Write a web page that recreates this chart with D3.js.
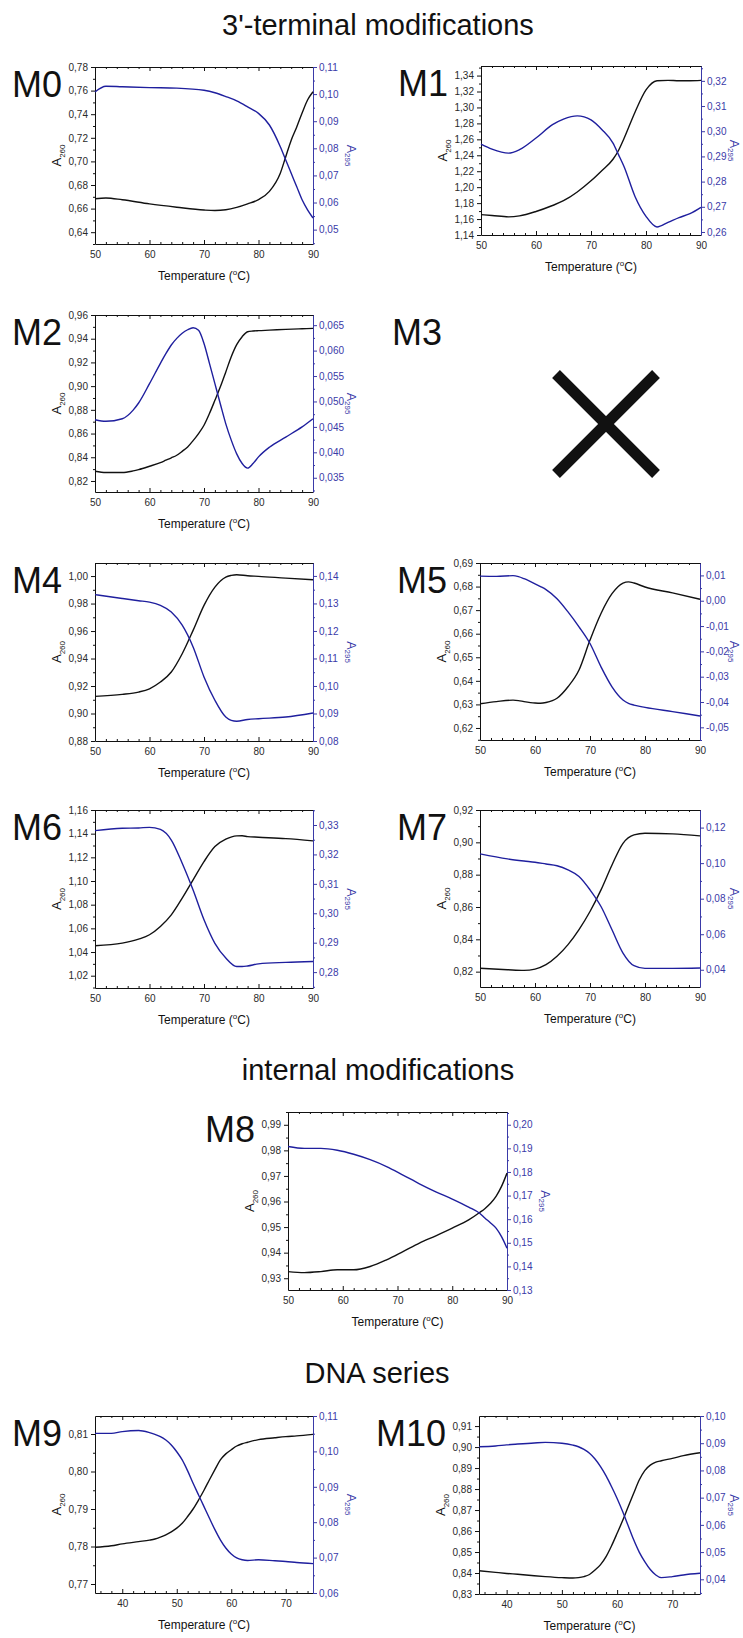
<!DOCTYPE html>
<html lang="en">
<head>
<meta charset="UTF-8">
<title>UV melting curves, A260 / A295</title>
<script src="https://d3js.org/d3.v7.min.js"></script>
<style>
  body { margin: 0; background: #fff; }
  svg { display: block; font-family: "Liberation Sans", Arial, sans-serif; }
</style>
</head>
<body>
<svg width="743" height="1638"></svg>
<script>
// melting curves: temperature (C), absorbance at 260 nm and 295 nm
const tM0    = [50, 52, 55, 60, 65, 70, 72, 74, 76, 78, 80, 82, 84, 85, 86, 87, 88, 89, 90];
const a260M0 = [0.6684, 0.669, 0.6675, 0.664, 0.6612, 0.6588, 0.6584, 0.659, 0.661, 0.664, 0.6676, 0.6746, 0.690, 0.704, 0.718, 0.729, 0.741, 0.752, 0.759];
const a295M0 = [0.1008, 0.1029, 0.1027, 0.1024, 0.1022, 0.1014, 0.1005, 0.0991, 0.0975, 0.0953, 0.0929, 0.0886, 0.0806, 0.0757, 0.0708, 0.0659, 0.061, 0.0573, 0.0543];

const tM1    = [50, 52, 55, 57, 60, 63, 65, 67.5, 70, 72, 74, 75, 76, 78, 80, 82, 84, 86, 88, 90];
const a260M1 = [1.1655, 1.1645, 1.1628, 1.164, 1.1695, 1.177, 1.183, 1.194, 1.208, 1.221, 1.235, 1.246, 1.261, 1.294, 1.322, 1.3335, 1.334, 1.3335, 1.3335, 1.334];
const a295M1 = [0.2949, 0.2929, 0.2913, 0.2927, 0.2973, 0.3026, 0.3048, 0.3061, 0.3045, 0.3006, 0.2953, 0.2907, 0.286, 0.2741, 0.2662, 0.262, 0.2638, 0.2657, 0.2673, 0.2698];

const tM2    = [50, 52, 55, 57, 58, 60, 62, 63, 64, 65, 66, 67, 68, 69, 70, 71, 72, 73, 74, 75, 76, 77, 78, 79, 80, 82, 85, 88, 90];
const a260M2 = [0.8282, 0.8271, 0.8271, 0.8285, 0.8296, 0.8324, 0.8355, 0.8375, 0.8395, 0.8417, 0.845, 0.8487, 0.854, 0.86, 0.867, 0.8769, 0.888, 0.8994, 0.912, 0.9248, 0.935, 0.9417, 0.9459, 0.9465, 0.9468, 0.9472, 0.9479, 0.9484, 0.9487];
const a295M2 = [0.0464, 0.0461, 0.0466, 0.0483, 0.0497, 0.0535, 0.0575, 0.0594, 0.0611, 0.0624, 0.0634, 0.0641, 0.0645, 0.064, 0.0614, 0.0575, 0.0535, 0.0495, 0.0456, 0.0424, 0.0397, 0.0378, 0.0369, 0.0378, 0.0391, 0.041, 0.043, 0.045, 0.0466];

const tM4    = [50, 55, 58, 60, 62, 64, 66, 68, 70, 72, 74, 75, 76, 78, 80, 85, 90];
const a260M4 = [0.9125, 0.9139, 0.9156, 0.918, 0.9229, 0.9302, 0.9435, 0.9605, 0.9787, 0.992, 0.9993, 1.0005, 1.001, 1.0002, 0.9998, 0.9985, 0.9973];
const a295M4 = [0.1332, 0.1318, 0.131, 0.1305, 0.1293, 0.1269, 0.1221, 0.1142, 0.1033, 0.0948, 0.0887, 0.0875, 0.0872, 0.0878, 0.0881, 0.0887, 0.0902];

const tM5    = [50, 53, 56, 57, 58, 60, 61, 62, 64, 66, 68, 70, 72, 74, 76, 77, 78, 80, 85, 90];
const a260M5 = [0.6303, 0.6312, 0.6318, 0.6316, 0.6312, 0.6306, 0.6305, 0.6308, 0.6326, 0.6375, 0.6446, 0.6573, 0.6686, 0.677, 0.6815, 0.682, 0.6815, 0.6798, 0.6773, 0.6746];
const a295M5 = [0.0097, 0.0096, 0.0099, 0.0095, 0.0087, 0.0067, 0.0056, 0.0044, 0.0008, -0.0044, -0.0103, -0.0169, -0.0261, -0.034, -0.0392, -0.0405, -0.0412, -0.0421, -0.0438, -0.0455];

const tM6    = [50, 55, 58, 60, 62, 64, 66, 68, 70, 72, 74, 76, 77, 78, 80, 85, 90];
const a260M6 = [1.0453, 1.0475, 1.0509, 1.0546, 1.0616, 1.0714, 1.0855, 1.101, 1.1164, 1.1291, 1.1353, 1.1381, 1.1382, 1.1375, 1.137, 1.1358, 1.1339];
const a295M6 = [0.3281, 0.3289, 0.329, 0.3292, 0.3285, 0.3249, 0.317, 0.3079, 0.2978, 0.2898, 0.2848, 0.2819, 0.2819, 0.2821, 0.2828, 0.2833, 0.2836];

const tM7    = [50, 55, 58, 60, 62, 64, 66, 68, 70, 72, 74, 76, 78, 80, 85, 90];
const a260M7 = [0.8221, 0.8212, 0.8208, 0.8216, 0.8243, 0.8295, 0.8367, 0.846, 0.8572, 0.8706, 0.886, 0.8994, 0.9046, 0.9056, 0.9052, 0.904];
const a295M7 = [0.1052, 0.1024, 0.1012, 0.1005, 0.0995, 0.0985, 0.0962, 0.0925, 0.085, 0.0756, 0.0625, 0.0494, 0.0423, 0.0408, 0.0408, 0.041];

const tM8    = [50, 53, 56, 59, 62, 65, 68, 71, 74, 77, 80, 83, 85, 86, 87, 88, 89, 90];
const a260M8 = [0.9326, 0.9322, 0.9326, 0.9333, 0.9333, 0.9346, 0.9372, 0.9404, 0.9437, 0.9466, 0.9496, 0.9528, 0.9557, 0.9573, 0.9593, 0.962, 0.9659, 0.9711];
const a295M8 = [0.1908, 0.19, 0.19, 0.1892, 0.1875, 0.1852, 0.1823, 0.1787, 0.175, 0.1716, 0.1685, 0.1651, 0.1625, 0.1604, 0.1584, 0.1562, 0.1526, 0.1477];

const tM9    = [35, 38, 40, 43, 45, 46, 47, 48, 49, 50, 51, 52, 53, 54, 55, 56, 57, 58, 59, 60, 61, 62, 63, 65, 68, 70, 72, 75];
const a260M9 = [0.7798, 0.7802, 0.7807, 0.7813, 0.7817, 0.782, 0.7825, 0.7831, 0.7839, 0.7849, 0.7862, 0.788, 0.79, 0.7924, 0.795, 0.7978, 0.8005, 0.8031, 0.8047, 0.8058, 0.8068, 0.8074, 0.8078, 0.8085, 0.809, 0.8093, 0.8095, 0.8099];
const a295M9 = [0.1051, 0.1051, 0.1056, 0.1059, 0.1053, 0.1048, 0.1042, 0.1032, 0.1018, 0.0999, 0.0976, 0.0945, 0.091, 0.0877, 0.0844, 0.0811, 0.0779, 0.075, 0.0727, 0.071, 0.0699, 0.0694, 0.0692, 0.0694, 0.0691, 0.0689, 0.0686, 0.0683];

const tM10    = [35, 38, 40, 42, 45, 47, 50, 52, 53, 54, 55, 56, 57, 58, 59, 60, 61, 62, 63, 64, 65, 66, 67, 68, 70, 72, 75];
const a260M10 = [0.8411, 0.8403, 0.8398, 0.8394, 0.8387, 0.8383, 0.8378, 0.8376, 0.8378, 0.8383, 0.8393, 0.8414, 0.844, 0.8478, 0.853, 0.8589, 0.865, 0.8716, 0.878, 0.8843, 0.8888, 0.8914, 0.8928, 0.8935, 0.8946, 0.8959, 0.8973];
const a295M10 = [0.0887, 0.089, 0.0894, 0.0897, 0.0901, 0.0903, 0.09, 0.0893, 0.0887, 0.0877, 0.0863, 0.0842, 0.0814, 0.078, 0.074, 0.0697, 0.0649, 0.0597, 0.0545, 0.05, 0.0465, 0.0436, 0.0416, 0.0406, 0.041, 0.0416, 0.0422];

// axis ranges: [min, max, major step]
const xRange5090 = [50, 90, 10];
const xRange3575 = [35, 75, 10];

const headings = ["3'-terminal modifications", "internal modifications", "DNA series"];

// panel layout (pixel box of each plot frame)
const panels = [
  { name: "M0",  box: [95, 67, 313, 244],    t: tM0,  a: a260M0,  b: a295M0,  x: xRange5090, yl: [0.63, 0.78, 0.02],     yr: [0.0447, 0.11, 0.01],   dr: 2 },
  { name: "M1",  box: [481, 66, 701, 235],   t: tM1,  a: a260M1,  b: a295M1,  x: xRange5090, yl: [1.14, 1.352, 0.02],    yr: [0.2588, 0.3259, 0.01], dr: 2 },
  { name: "M2",  box: [95, 315, 313, 492],   t: tM2,  a: a260M2,  b: a295M2,  x: xRange5090, yl: [0.8107, 0.96, 0.02],   yr: [0.0322, 0.067, 0.005], dr: 3 },
  { name: "M4",  box: [95, 563, 313, 741],   t: tM4,  a: a260M4,  b: a295M4,  x: xRange5090, yl: [0.88, 1.0095, 0.02],   yr: [0.08, 0.1447, 0.01],   dr: 2 },
  { name: "M5",  box: [480, 563, 700, 740],  t: tM5,  a: a260M5,  b: a295M5,  x: xRange5090, yl: [0.6149, 0.69, 0.01],   yr: [-0.055, 0.0149, 0.01], dr: 2 },
  { name: "M6",  box: [95, 810, 313, 988],   t: tM6,  a: a260M6,  b: a295M6,  x: xRange5090, yl: [1.0096, 1.16, 0.02],   yr: [0.2746, 0.3351, 0.01], dr: 2 },
  { name: "M7",  box: [480, 810, 700, 987],  t: tM7,  a: a260M7,  b: a295M7,  x: xRange5090, yl: [0.8105, 0.92, 0.02],   yr: [0.0303, 0.1299, 0.02], dr: 2 },
  { name: "M8",  box: [288, 1112, 507, 1290], t: tM8, a: a260M8,  b: a295M8,  x: xRange5090, yl: [0.9254, 0.995, 0.01],  yr: [0.13, 0.2054, 0.01],   dr: 2 },
  { name: "M9",  box: [95, 1416, 313, 1593], t: tM9,  a: a260M9,  b: a295M9,  x: xRange3575, yl: [0.7676, 0.8148, 0.01], yr: [0.06, 0.11, 0.01],     dr: 2 },
  { name: "M10", box: [479, 1416, 700, 1594], t: tM10, a: a260M10, b: a295M10, x: xRange3575, yl: [0.83, 0.9148, 0.01],  yr: [0.0346, 0.10, 0.01],   dr: 2 }
];

const black = "#111", blueLine = "#1f1f9e", blueAxis = "#3a3aa8", tickText = "#2a2a2a";
const font = '"Liberation Sans", Arial, sans-serif';
const pageW = 743;

const svg = d3.select("svg");
svg.append("rect").attr("width", pageW).attr("height", 1638).attr("fill", "#fff");

// section headings
[[378, 35], [378, 1080], [377, 1383]].forEach(([x, y], i) => {
  svg.append("text").attr("x", x).attr("y", y)
    .attr("text-anchor", "middle").attr("font-size", 29).attr("fill", black)
    .text(headings[i]);
});

// values on a fixed step inside [lo, hi]
function stepValues(lo, hi, step) {
  const out = [];
  for (let k = Math.ceil(lo / step - 1e-6); k <= Math.floor(hi / step + 1e-6); k++) {
    out.push(+(k * step).toFixed(6));
  }
  return out;
}
function majorMinor(range, minorStep) {
  const major = stepValues(range[0], range[1], range[2]);
  const minor = stepValues(range[0], range[1], minorStep)
    .filter(v => !major.some(m => Math.abs(m - v) < 1e-9));
  return [major, minor];
}
const comma = dec => v => v.toFixed(dec).replace(".", ",");

function styleAxis(g, color, textColor) {
  g.attr("font-family", font).attr("font-size", 10).attr("color", color);
  g.selectAll("text").attr("fill", textColor);
  g.selectAll("line, path").attr("stroke-width", 1);
}

function drawPanel(p) {
  const [x0, y0, x1, y1] = p.box;
  const w = x1 - x0, h = y1 - y0;
  const g = svg.append("g").attr("transform", `translate(${x0},${y0})`);

  const x = d3.scaleLinear().domain([p.x[0], p.x[1]]).range([0, w]);
  const yl = d3.scaleLinear().domain([p.yl[0], p.yl[1]]).range([h, 0]);
  const yr = d3.scaleLinear().domain([p.yr[0], p.yr[1]]).range([h, 0]);

  const [xMaj, xMin] = majorMinor(p.x, 2);
  const [lMaj, lMin] = majorMinor(p.yl, p.yl[2] / 2);
  const [rMaj, rMin] = majorMinor(p.yr, p.yr[2] / 2);

  // bottom axis, ticks pointing into the frame
  g.append("g").attr("transform", `translate(0,${h})`)
    .call(d3.axisBottom(x).tickValues(xMaj).tickSize(-4).tickSizeOuter(0).tickPadding(7).tickFormat(d3.format("d")))
    .call(a => styleAxis(a, black, tickText));
  g.append("g").attr("transform", `translate(0,${h})`)
    .call(d3.axisBottom(x).tickValues(xMin).tickSize(-2).tickFormat(""))
    .call(a => { styleAxis(a, black, tickText); a.select(".domain").remove(); });

  // top frame edge with mirrored ticks
  g.append("g")
    .call(d3.axisTop(x).tickValues(xMaj).tickSize(-4).tickSizeOuter(0).tickFormat(""))
    .call(a => styleAxis(a, black, tickText));
  g.append("g")
    .call(d3.axisTop(x).tickValues(xMin).tickSize(-2).tickFormat(""))
    .call(a => { styleAxis(a, black, tickText); a.select(".domain").remove(); });

  // left axis: A260
  g.append("g")
    .call(d3.axisLeft(yl).tickValues(lMaj).tickSize(4).tickSizeOuter(0).tickPadding(3).tickFormat(comma(2)))
    .call(a => styleAxis(a, black, tickText));
  g.append("g")
    .call(d3.axisLeft(yl).tickValues(lMin).tickSize(2).tickFormat(""))
    .call(a => { styleAxis(a, black, tickText); a.select(".domain").remove(); });

  // right axis: A295
  g.append("g").attr("transform", `translate(${w},0)`)
    .call(d3.axisRight(yr).tickValues(rMaj).tickSize(4).tickSizeOuter(0).tickPadding(2).tickFormat(comma(p.dr)))
    .call(a => styleAxis(a, blueAxis, blueAxis));
  g.append("g").attr("transform", `translate(${w},0)`)
    .call(d3.axisRight(yr).tickValues(rMin).tickSize(2).tickFormat(""))
    .call(a => { styleAxis(a, blueAxis, blueAxis); a.select(".domain").remove(); });

  // curves
  const pts = p.t.map((t, i) => ({ t, a: p.a[i], b: p.b[i] }));
  g.append("path").datum(pts)
    .attr("fill", "none").attr("stroke", black).attr("stroke-width", 1.4)
    .attr("d", d3.line().x(d => x(d.t)).y(d => yl(d.a)).curve(d3.curveMonotoneX));
  g.append("path").datum(pts)
    .attr("fill", "none").attr("stroke", blueLine).attr("stroke-width", 1.4)
    .attr("d", d3.line().x(d => x(d.t)).y(d => yr(d.b)).curve(d3.curveMonotoneX));

  // axis titles
  const xl = g.append("text").attr("x", w / 2).attr("y", h + 36)
    .attr("text-anchor", "middle").attr("font-size", 12).attr("fill", black)
    .text("Temperature (");
  xl.append("tspan").attr("font-size", 8).attr("dy", -5).text("o");
  xl.append("tspan").attr("dy", 5).text("C)");

  const la = g.append("text").attr("transform", `translate(-34,${h / 2}) rotate(-90)`)
    .attr("text-anchor", "middle").attr("font-size", 13).attr("fill", black).text("A");
  la.append("tspan").attr("font-size", 8).attr("dy", 3.5).text("260");

  // keep the rotated right title inside the page
  const rx = Math.min(w + 34, pageW - 13 - x0);
  const ra = g.append("text").attr("transform", `translate(${rx},${h / 2}) rotate(90)`)
    .attr("text-anchor", "middle").attr("font-size", 12.5).attr("fill", blueAxis).text("A");
  ra.append("tspan").attr("font-size", 8).attr("dy", 2.5).text("295");

  // panel name
  svg.append("text").attr("x", x0 - 33).attr("y", y0 + 30)
    .attr("text-anchor", "end").attr("font-size", 36).attr("fill", black)
    .text(p.name);
}

panels.forEach(drawPanel);

// M3: no melting curve, marked with a cross
svg.append("text").attr("x", 392).attr("y", 345)
  .attr("font-size", 36).attr("fill", black).text("M3");
const cross = svg.append("g").attr("stroke", black).attr("stroke-width", 11);
cross.append("line").attr("x1", 556).attr("y1", 374).attr("x2", 656).attr("y2", 474);
cross.append("line").attr("x1", 656).attr("y1", 374).attr("x2", 556).attr("y2", 474);
</script>
</body>
</html>
